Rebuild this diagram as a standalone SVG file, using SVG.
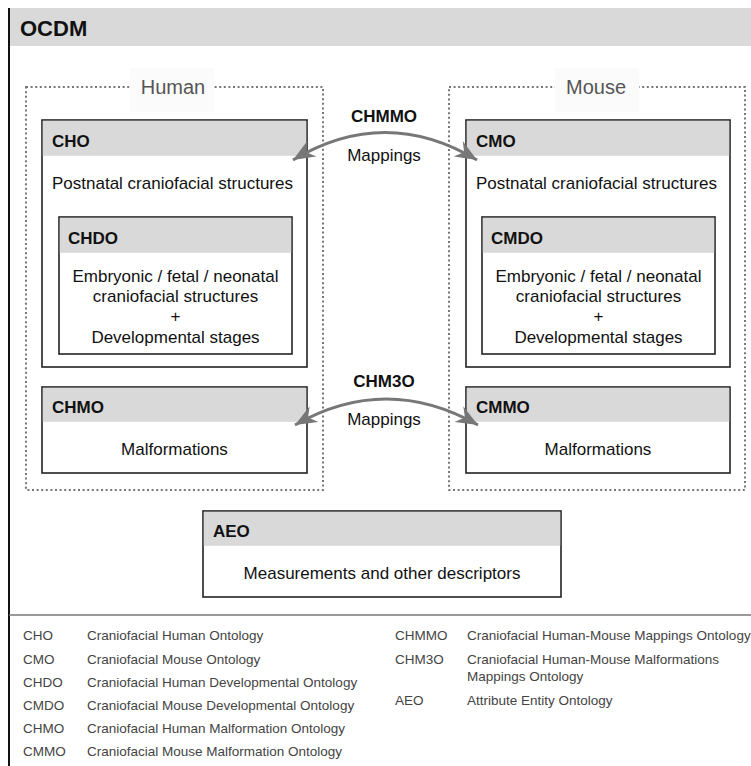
<svg xmlns="http://www.w3.org/2000/svg" width="751" height="766" viewBox="0 0 751 766">
<defs>
<style>
text{font-family:"Liberation Sans",Arial,sans-serif;fill:#111}
.hdr{font-size:17px;font-weight:bold}
.body{font-size:17px}
.grp{fill:none;stroke:#777;stroke-width:2;stroke-dasharray:2 2.6}
.box{fill:#fff;stroke:#222;stroke-width:1.6}
.band{fill:#d9d9d9}
.lab{font-size:20px;fill:#555}
.conn{fill:none;stroke:#777;stroke-width:3}
.lg{font-size:13.5px;fill:#444}
.c{text-anchor:middle}
</style>
<marker id="ah" viewBox="-22 -9 22 18" refX="0" refY="0" markerWidth="22" markerHeight="18" markerUnits="userSpaceOnUse" orient="auto-start-reverse">
<path d="M0,0 L-22,-9 L-15,0 L-22,9 Z" fill="#777"/>
</marker>
</defs>
<rect width="751" height="766" fill="#fff"/>
<g id="ocdm">
<rect x="9" y="8" width="742" height="38" class="band"/>
<line x1="9" y1="8" x2="9" y2="766" stroke="#111" stroke-width="2"/>
<line x1="9" y1="615" x2="751" y2="615" stroke="#777" stroke-width="1.5"/>
<text x="20" y="36" style="font-size:22px;font-weight:bold">OCDM</text>
</g>
<g id="human">
<rect x="26" y="87" width="297" height="403" class="grp"/>
<rect x="130" y="68" width="84" height="44" fill="#fbfbfb"/>
<text x="173" y="94" class="lab c">Human</text>
</g>
<g id="mouse">
<rect x="449" y="87" width="296" height="403" class="grp"/>
<rect x="555" y="68" width="84" height="44" fill="#fbfbfb"/>
<text x="596" y="94" class="lab c">Mouse</text>
</g>
<g id="cho">
<rect x="42" y="120" width="265" height="247" class="box"/>
<rect x="42.8" y="120.8" width="263.4" height="35" class="band"/>
<text x="52" y="147" class="hdr">CHO</text>
<text x="52" y="189" class="body">Postnatal craniofacial structures</text>
</g>
<g id="chdo">
<rect x="59" y="217" width="233" height="137" class="box"/>
<rect x="59.8" y="217.8" width="231.4" height="35" class="band"/>
<text x="68" y="244" class="hdr">CHDO</text>
<text x="175.5" y="282" class="body c">Embryonic / fetal / neonatal</text>
<text x="175.5" y="302" class="body c">craniofacial structures</text>
<text x="175.5" y="322" class="body c">+</text>
<text x="175.5" y="343" class="body c">Developmental stages</text>
</g>
<g id="chmo">
<rect x="42" y="387" width="265" height="86" class="box"/>
<rect x="42.8" y="387.8" width="263.4" height="34" class="band"/>
<text x="52" y="413" class="hdr">CHMO</text>
<text x="174.5" y="455" class="body c">Malformations</text>
</g>
<g id="cmo">
<rect x="466" y="120" width="264" height="247" class="box"/>
<rect x="466.8" y="120.8" width="262.4" height="35" class="band"/>
<text x="476" y="147" class="hdr">CMO</text>
<text x="476" y="189" class="body">Postnatal craniofacial structures</text>
</g>
<g id="cmdo">
<rect x="482" y="217" width="233" height="137" class="box"/>
<rect x="482.8" y="217.8" width="231.4" height="35" class="band"/>
<text x="491" y="244" class="hdr">CMDO</text>
<text x="598.5" y="282" class="body c">Embryonic / fetal / neonatal</text>
<text x="598.5" y="302" class="body c">craniofacial structures</text>
<text x="598.5" y="322" class="body c">+</text>
<text x="598.5" y="343" class="body c">Developmental stages</text>
</g>
<g id="cmmo">
<rect x="466" y="387" width="264" height="86" class="box"/>
<rect x="466.8" y="387.8" width="262.4" height="34" class="band"/>
<text x="476" y="413" class="hdr">CMMO</text>
<text x="598" y="455" class="body c">Malformations</text>
</g>
<g id="aeo">
<rect x="203" y="511" width="358" height="86" class="box"/>
<rect x="203.8" y="511.8" width="356.4" height="34" class="band"/>
<text x="213" y="537" class="hdr">AEO</text>
<text x="382" y="579" class="body c">Measurements and other descriptors</text>
</g>
<g id="connectors">
<path d="M293,160 Q385,105 477,160" class="conn" marker-start="url(#ah)" marker-end="url(#ah)"/>
<text x="384" y="122" class="hdr c">CHMMO</text>
<text x="384" y="161" class="body c">Mappings</text>
<path d="M295,425 Q386,373 478,425" class="conn" marker-start="url(#ah)" marker-end="url(#ah)"/>
<text x="384" y="387" class="hdr c">CHM3O</text>
<text x="384" y="425" class="body c">Mappings</text>
</g>
<g id="legend">
<text x="23" y="640" class="lg">CHO</text><text x="87" y="640" class="lg">Craniofacial Human Ontology</text>
<text x="23" y="664" class="lg">CMO</text><text x="87" y="664" class="lg">Craniofacial Mouse Ontology</text>
<text x="23" y="687" class="lg">CHDO</text><text x="87" y="687" class="lg">Craniofacial Human Developmental Ontology</text>
<text x="23" y="710" class="lg">CMDO</text><text x="87" y="710" class="lg">Craniofacial Mouse Developmental Ontology</text>
<text x="23" y="733" class="lg">CHMO</text><text x="87" y="733" class="lg">Craniofacial Human Malformation Ontology</text>
<text x="23" y="756" class="lg">CMMO</text><text x="87" y="756" class="lg">Craniofacial Mouse Malformation Ontology</text>
<text x="395" y="640" class="lg">CHMMO</text><text x="467" y="640" class="lg">Craniofacial Human-Mouse Mappings Ontology</text>
<text x="395" y="664" class="lg">CHM3O</text><text x="467" y="664" class="lg">Craniofacial Human-Mouse Malformations</text>
<text x="467" y="681" class="lg">Mappings Ontology</text>
<text x="395" y="705" class="lg">AEO</text><text x="467" y="705" class="lg">Attribute Entity Ontology</text>
</g>
</svg>
